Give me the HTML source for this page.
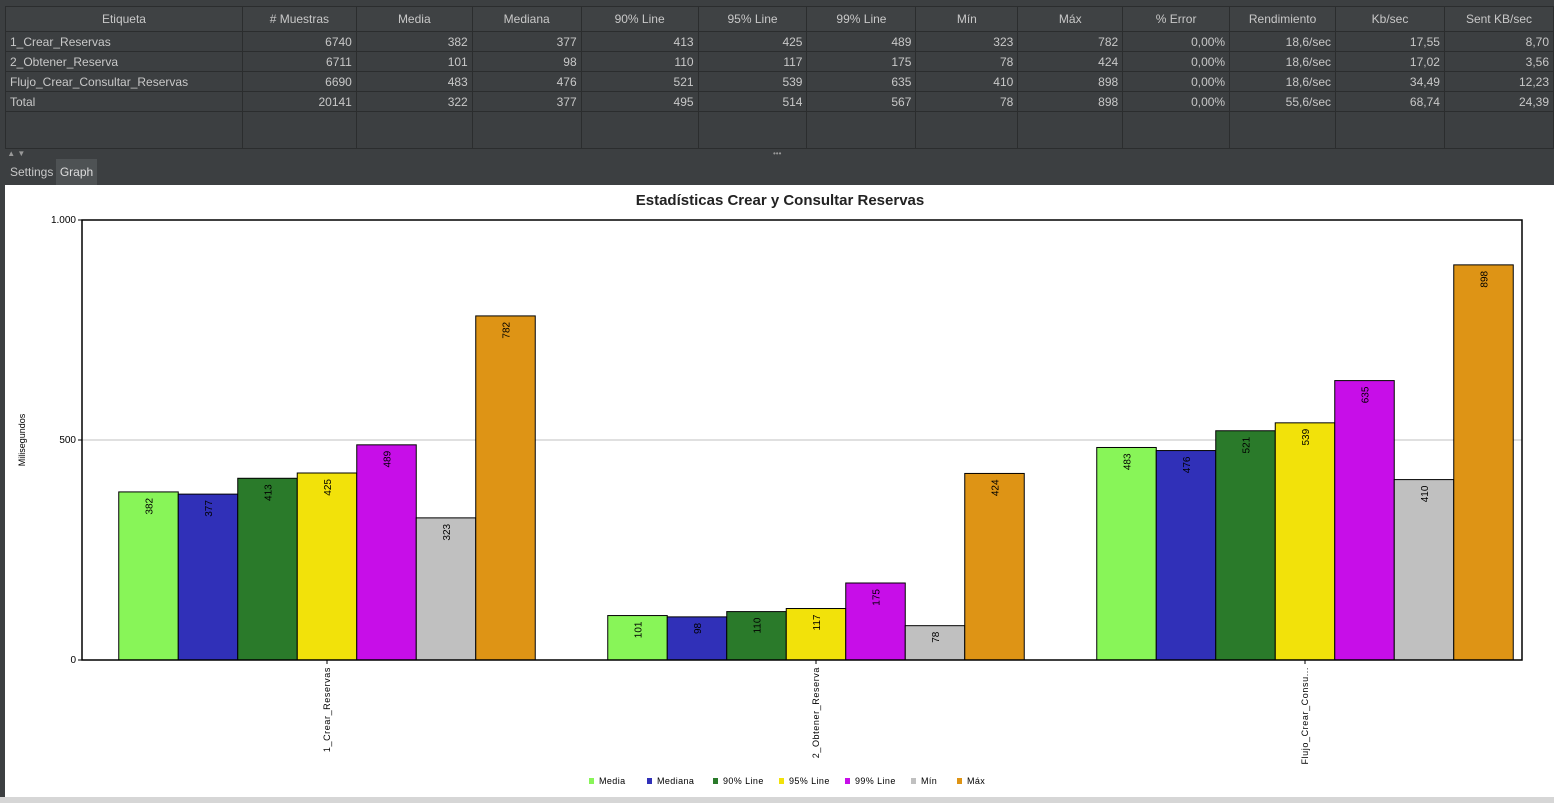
<!DOCTYPE html>
<html><head><meta charset="utf-8"><style>
body{margin:0;width:1554px;height:803px;background:#3c3f41;font-family:"Liberation Sans",sans-serif;overflow:hidden;position:relative}
table{position:absolute;left:5px;top:6px;border-collapse:collapse;font-size:12px;color:#c8c8c8;table-layout:fixed}
td,th{border:1px solid #2b2d2e;height:19px;padding:0 4px;white-space:nowrap;overflow:hidden}
th{font-weight:normal;background:#3f4244;height:24px}
td{text-align:right;background:#3c3f41}
td:first-child{text-align:left}
#chart{position:absolute;left:5px;top:185px}
</style></head><body>
<table>
<colgroup><col style="width:237px"><col style="width:114px"><col style="width:116px"><col style="width:109px"><col style="width:117px"><col style="width:109px"><col style="width:109px"><col style="width:102px"><col style="width:105px"><col style="width:107px"><col style="width:106px"><col style="width:109px"><col style="width:109px"></colgroup>
<tr><th>Etiqueta</th><th># Muestras</th><th>Media</th><th>Mediana</th><th>90% Line</th><th>95% Line</th><th>99% Line</th><th>Mín</th><th>Máx</th><th>% Error</th><th>Rendimiento</th><th>Kb/sec</th><th>Sent KB/sec</th></tr>
<tr><td>1_Crear_Reservas</td><td>6740</td><td>382</td><td>377</td><td>413</td><td>425</td><td>489</td><td>323</td><td>782</td><td>0,00%</td><td>18,6/sec</td><td>17,55</td><td>8,70</td></tr>
<tr><td>2_Obtener_Reserva</td><td>6711</td><td>101</td><td>98</td><td>110</td><td>117</td><td>175</td><td>78</td><td>424</td><td>0,00%</td><td>18,6/sec</td><td>17,02</td><td>3,56</td></tr>
<tr><td>Flujo_Crear_Consultar_Reservas</td><td>6690</td><td>483</td><td>476</td><td>521</td><td>539</td><td>635</td><td>410</td><td>898</td><td>0,00%</td><td>18,6/sec</td><td>34,49</td><td>12,23</td></tr>
<tr><td>Total</td><td>20141</td><td>322</td><td>377</td><td>495</td><td>514</td><td>567</td><td>78</td><td>898</td><td>0,00%</td><td>55,6/sec</td><td>68,74</td><td>24,39</td></tr>
<tr><td style="height:36px"></td><td></td><td></td><td></td><td></td><td></td><td></td><td></td><td></td><td></td><td></td><td></td><td></td></tr>
</table>
<div style="position:absolute;left:5px;top:148px;width:1549px;height:10px;background:#3c3f41;border-top:1px solid #2b2d2e;font-size:8px;color:#999;line-height:10px">&nbsp;▲ ▼<span style="position:absolute;left:768px">•••</span></div>
<div style="position:absolute;left:10px;top:165px;font-size:12px;color:#c8c8c8">Settings</div>
<div style="position:absolute;left:56px;top:159px;width:41px;height:26px;background:#4e5254;font-size:12px;color:#ddd;text-align:center;line-height:26px">Graph</div>
<svg id="chart" width="1549" height="612" xmlns="http://www.w3.org/2000/svg"></svg>
<div style="position:absolute;left:0;top:797px;width:1554px;height:6px;background:#d6d6d6"></div>
<script>
const categories=["1_Crear_Reservas","2_Obtener_Reserva","Flujo_Crear_Consultar_Reservas"];
const catLabels=["1_Crear_Reservas","2_Obtener_Reserva","Flujo_Crear_Consu..."];
const seriesNames=["Media","Mediana","90% Line","95% Line","99% Line","Mín","Máx"];
const colors=["#88f558","#3030b8","#2a7a2a","#f2e20a","#c70ee8","#c0c0c0","#de9415"];
const media=[382,101,483];
const mediana=[377,98,476];
const line90=[413,110,521];
const line95=[425,117,539];
const line99=[489,175,635];
const minv=[323,78,410];
const maxv=[782,424,898];
const yTicks=[0,500,1000];
const yTickLabels=["0","500","1.000"];
const series=[media,mediana,line90,line95,line99,minv,maxv];
const svg=document.getElementById('chart');
const NS="http://www.w3.org/2000/svg";
const ox=5,oy=185;
const L=82-ox,R=1522-ox,T=220-oy,B=660-oy;
function y(v){return B-(B-T)*v/1000;}
function cx(i){return 327-ox+489*i;}
const bw=59.5;
function mk(t,a,txt){const e=document.createElementNS(NS,t);for(const k in a)e.setAttribute(k,a[k]);if(txt!==undefined)e.textContent=txt;svg.appendChild(e);return e;}
const bg=mk('rect',{x:0,y:0,width:1549,height:612,fill:'#fff'});


const title=mk('text',{x:775,y:20,'text-anchor':'middle','font-size':'15','font-weight':'bold',fill:'#222'},'Estadísticas Crear y Consultar Reservas');


yTicks.forEach((t,i)=>{
 if(t>0&&t<1000){const g=mk('line',{x1:L,x2:R,y1:y(t),y2:y(t),stroke:'#c0c0c0'});}
 mk('line',{x1:L-4,x2:L,y1:y(t),y2:y(t),stroke:'#000'});
 const tl=mk('text',{x:L-6,y:y(t)+3,'text-anchor':'end','font-size':'10',fill:'#000'},yTickLabels[i]);
 
 
});
const yt=mk('text',{transform:`translate(20,${(T+B)/2}) rotate(-90)`,'text-anchor':'middle','font-size':'9',fill:'#000'},'Milisegundos');


series.forEach((s,si)=>{
 s.forEach((v,ci)=>{
  const x=cx(ci)-3.5*bw+si*bw;
  const r=mk('rect',{x:x,y:y(v),width:bw,height:B-y(v),fill:colors[si],stroke:'#000','stroke-width':1});
  
  
  const lx=x+bw/2+4, ly=y(v)+6;
  const t=mk('text',{transform:`translate(${lx},${ly}) rotate(-90)`,'text-anchor':'end','font-size':'10',fill:'#000'},String(v));
  
  
 });
});
const frame=mk('rect',{x:L,y:T,width:R-L,height:B-T,fill:'none',stroke:'#000','stroke-width':1.5});


catLabels.forEach((c,i)=>{
 mk('line',{x1:cx(i),x2:cx(i),y1:B,y2:B+4,stroke:'#000'});
 const t=mk('text',{transform:`translate(${cx(i)+3},${B+7}) rotate(-90)`,'text-anchor':'end','font-size':'9','letter-spacing':'0.6',fill:'#000'},c);
 
 
});
let lx=589-ox;
const lw=[52,60,60,60,60,40,40];
seriesNames.forEach((n,i)=>{
 const sw=mk('rect',{x:lx,y:778-oy,width:5,height:6,fill:colors[i]});
 
 
 const t=mk('text',{x:lx+10,y:784-oy,'font-size':'9','letter-spacing':'0.4',fill:'#000'},n);
 
 
 lx+=lw[i]+6;
});
</script>
</body></html>
